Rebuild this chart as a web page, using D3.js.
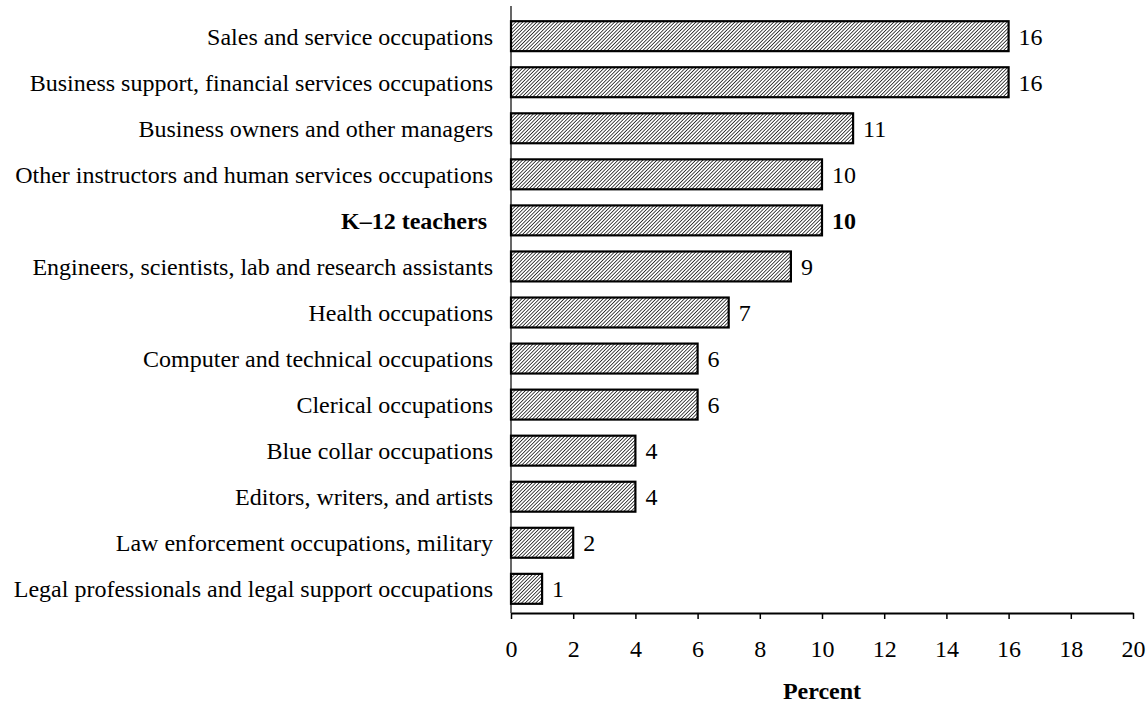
<!DOCTYPE html>
<html>
<head>
<meta charset="utf-8">
<script src="https://cdn.jsdelivr.net/npm/d3@7"></script>
<style>
  body { margin: 0; background: #fff; overflow: hidden; }
  svg { display: block; }
  text { font-family: "Liberation Serif", "Times New Roman", serif; fill: #000; }
</style>
</head>
<body>
<svg id="chart"></svg>
<script>
const categories = [
  'Sales and service occupations',
  'Business support, financial services occupations',
  'Business owners and other managers',
  'Other instructors and human services occupations',
  'K\u201312 teachers',
  'Engineers, scientists, lab and research assistants',
  'Health occupations',
  'Computer and technical occupations',
  'Clerical occupations',
  'Blue collar occupations',
  'Editors, writers, and artists',
  'Law enforcement occupations, military',
  'Legal professionals and legal support occupations'
];
const values = [16, 16, 11, 10, 10, 9, 7, 6, 6, 4, 4, 2, 1];
const highlight = ['K\u201312 teachers'];
const xTicks = [0, 2, 4, 6, 8, 10, 12, 14, 16, 18, 20];

const width = 1148, height = 701;
const margin = { top: 12, right: 15, bottom: 88, left: 511 };
const innerWidth = 1133 - margin.left;
const innerHeight = 613 - margin.top;
const fontSize = '24px';

const svg = d3.select('#chart').attr('width', width).attr('height', height);

const defs = svg.append('defs');
const pat = defs.append('pattern')
  .attr('id', 'hatch')
  .attr('patternUnits', 'userSpaceOnUse')
  .attr('width', 2.5).attr('height', 2.5)
  .attr('patternTransform', 'rotate(45)');
pat.append('rect').attr('width', 2.5).attr('height', 2.5).attr('fill', '#fff');
pat.append('line').attr('x1', 0).attr('y1', 0).attr('x2', 0).attr('y2', 2.5)
  .attr('stroke', '#000').attr('stroke-width', 1.4);

const g = svg.append('g').attr('transform', `translate(${margin.left},${margin.top})`);

const x = d3.scaleLinear().domain([0, 20]).range([0, innerWidth]);
const y = d3.scaleBand().domain(categories).range([0, innerHeight]).paddingInner(0.35).paddingOuter(0.2);

g.selectAll('rect.bar')
  .data(values)
  .join('rect')
  .attr('class', 'bar')
  .attr('x', x(0))
  .attr('y', (d, i) => y(categories[i]))
  .attr('width', d => x(d) - x(0))
  .attr('height', y.bandwidth())
  .attr('fill', 'url(#hatch)')
  .attr('stroke', '#000')
  .attr('stroke-width', 2.2);

g.selectAll('text.val')
  .data(values)
  .join('text')
  .attr('class', 'val')
  .attr('x', d => x(d) + 10)
  .attr('y', (d, i) => y(categories[i]) + y.bandwidth() / 2)
  .attr('dy', '0.35em')
  .style('font-size', fontSize)
  .style('font-weight', (d, i) => highlight.includes(categories[i]) ? 'bold' : 'normal')
  .text(d => d);

// category labels
g.selectAll('text.cat')
  .data(categories)
  .join('text')
  .attr('class', 'cat')
  .attr('x', d => highlight.includes(d) ? -24 : -18)
  .attr('y', d => y(d) + y.bandwidth() / 2)
  .attr('dy', '0.35em')
  .attr('text-anchor', 'end')
  .style('font-size', fontSize)
  .style('font-weight', d => highlight.includes(d) ? 'bold' : 'normal')
  .text(d => d);

// y axis line
g.append('line')
  .attr('x1', 0).attr('x2', 0)
  .attr('y1', -6).attr('y2', innerHeight)
  .attr('stroke', '#000').attr('stroke-width', 1.2);

const xAxis = g.append('g')
  .attr('transform', `translate(0,${innerHeight})`)
  .call(d3.axisBottom(x).tickValues(xTicks).tickSize(6).tickPadding(21).tickSizeOuter(0));
xAxis.select('.domain').attr('stroke-width', 2);
xAxis.selectAll('.tick line').attr('stroke-width', 1.5);
xAxis.selectAll('.tick text')
  .style('font-family', '"Liberation Serif", serif')
  .style('font-size', fontSize);

g.append('text')
  .attr('x', innerWidth / 2)
  .attr('y', 691 - margin.top)
  .attr('dy', '0.35em')
  .attr('text-anchor', 'middle')
  .style('font-size', fontSize)
  .style('font-weight', 'bold')
  .text('Percent');
</script>
</body>
</html>
